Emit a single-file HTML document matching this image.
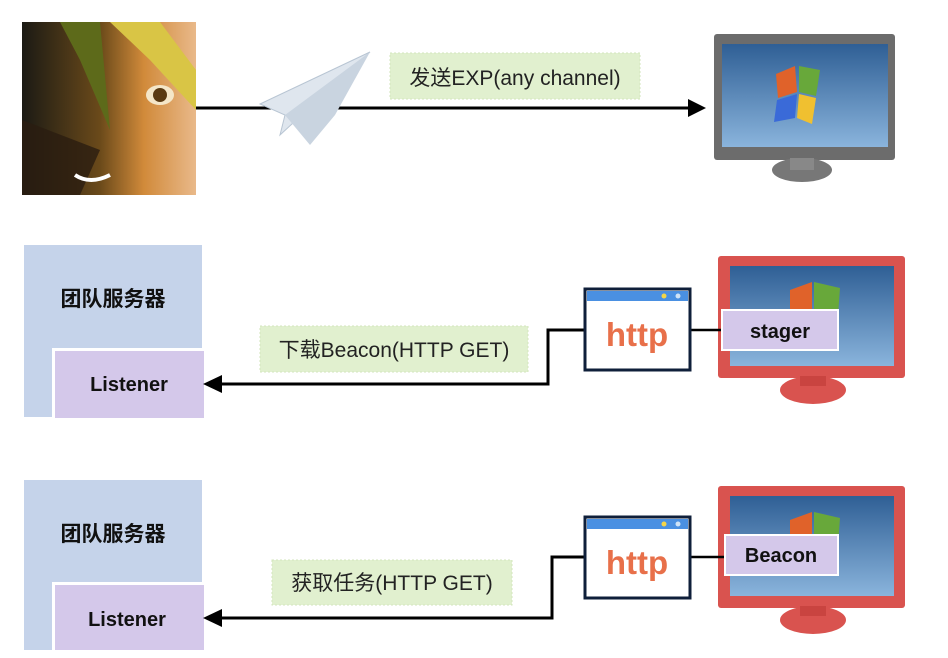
<!DOCTYPE html>
<html><head><meta charset="utf-8"><style>
html,body{margin:0;padding:0;background:#fff;}
svg{display:block;}
text{font-family:"Liberation Sans","Noto Sans CJK SC",sans-serif;}
</style></head><body>
<svg width="948" height="658" viewBox="0 0 948 658" xmlns="http://www.w3.org/2000/svg">
<defs>
<linearGradient id="scr" x1="0" y1="0" x2="0" y2="1"><stop offset="0" stop-color="#2f5f95"/><stop offset="1" stop-color="#8ab4dc"/></linearGradient>
<linearGradient id="face" x1="0" y1="0" x2="1" y2="0"><stop offset="0" stop-color="#1b1a14"/><stop offset="0.45" stop-color="#6b4a1a"/><stop offset="0.7" stop-color="#d18a3a"/><stop offset="1" stop-color="#e9b98a"/></linearGradient>
</defs>

<!-- Row 1 -->
<rect x="22" y="22" width="174" height="173" fill="url(#face)"/>
<polygon points="60,22 100,22 110,130 80,60" fill="#5d6a1a"/>
<polygon points="110,22 160,22 196,70 196,110 150,60" fill="#d9c545"/>
<polygon points="22,120 100,150 80,195 22,195" fill="#2a1d10" opacity="0.8"/>
<ellipse cx="160" cy="95" rx="14" ry="10" fill="#f4e6c8"/><circle cx="160" cy="95" r="7" fill="#5a3a12"/>
<path d="M75,175 Q90,185 110,175" stroke="#fff" stroke-width="4" fill="none"/>

<line x1="196" y1="108" x2="690" y2="108" stroke="#000" stroke-width="3"/>
<polygon points="706,108 688,99 688,117" fill="#000"/>
<polygon points="370,52 260,104 285,115 280,135" fill="#dfe6ee" stroke="#b8c5d3" stroke-width="1"/>
<polygon points="370,52 285,115 310,145 335,115" fill="#c9d4e0"/>
<rect x="390" y="53" width="250" height="46" fill="#e1f0cf" stroke="#d3e6bd" stroke-dasharray="2,2"/>
<text x="515" y="85" font-size="21" text-anchor="middle" fill="#222">发送EXP(any channel)</text>

<rect x="714" y="34" width="181" height="126" rx="3" fill="#6c6c6c"/>
<rect x="722" y="44" width="166" height="103" fill="url(#scr)"/>
<path d="M776,74 L795,66 L797,92 L778,98Z" fill="#e0622a"/>
<path d="M799,66 L820,70 L816,96 L799,92Z" fill="#68a83a"/>
<path d="M777,100 L797,94 L795,118 L774,122Z" fill="#3a6ad8"/>
<path d="M799,94 L816,98 L812,124 L797,118Z" fill="#f0c030"/>
<ellipse cx="802" cy="170" rx="30" ry="12" fill="#777"/>
<rect x="790" y="158" width="24" height="12" fill="#888"/>

<!-- Row 2 -->
<rect x="24" y="245" width="178" height="172" fill="#c5d3ea"/>
<rect x="52" y="348" width="152" height="70" fill="#fff"/>
<rect x="55" y="351" width="149" height="67" fill="#d4c8ea"/>
<text x="113" y="306" font-size="21" font-weight="bold" text-anchor="middle" fill="#111">团队服务器</text>
<text x="129" y="391" font-size="20" font-weight="bold" text-anchor="middle" fill="#111">Listener</text>
<polyline points="585,330 548,330 548,384 220,384" fill="none" stroke="#000" stroke-width="3"/>
<polygon points="203,384 222,375 222,393" fill="#000"/>
<rect x="260" y="326" width="268" height="46" fill="#e1f0cf" stroke="#d3e6bd" stroke-dasharray="2,2"/>
<text x="394" y="357" font-size="21" text-anchor="middle" fill="#222">下载Beacon(HTTP GET)</text>

<rect x="718" y="256" width="187" height="122" fill="#d9534f" rx="3"/>
<rect x="730" y="266" width="164" height="100" fill="url(#scr)"/>
<path d="M790,290 L812,282 L812,315 L790,318Z" fill="#e0622a"/>
<path d="M814,282 L840,288 L838,315 L814,315Z" fill="#68a83a"/>
<ellipse cx="813" cy="390" rx="33" ry="14" fill="#d9534f"/>
<rect x="800" y="376" width="26" height="10" fill="#c94440"/>
<line x1="690" y1="330" x2="722" y2="330" stroke="#000" stroke-width="2.5"/>
<rect x="585" y="289" width="105" height="81" fill="#fff" stroke="#0f1f3a" stroke-width="3"/>
<rect x="587" y="291" width="101" height="10" fill="#4a90e2"/>
<circle cx="664" cy="296" r="2.5" fill="#f5d547"/><circle cx="678" cy="296" r="2.5" fill="#cfe3f7"/>
<text x="637" y="346" font-size="33" font-weight="bold" text-anchor="middle" fill="#e8704a">http</text>
<rect x="722" y="310" width="116" height="40" fill="#d4c8ea" stroke="#fff" stroke-width="2"/>
<text x="780" y="338" font-size="20" font-weight="bold" text-anchor="middle" fill="#111">stager</text>

<!-- Row 3 -->
<rect x="24" y="480" width="178" height="170" fill="#c5d3ea"/>
<rect x="52" y="582" width="152" height="68" fill="#fff"/>
<rect x="55" y="585" width="149" height="65" fill="#d4c8ea"/>
<text x="113" y="541" font-size="21" font-weight="bold" text-anchor="middle" fill="#111">团队服务器</text>
<text x="127" y="626" font-size="20" font-weight="bold" text-anchor="middle" fill="#111">Listener</text>
<polyline points="585,557 552,557 552,618 220,618" fill="none" stroke="#000" stroke-width="3"/>
<polygon points="203,618 222,609 222,627" fill="#000"/>
<rect x="272" y="560" width="240" height="45" fill="#e1f0cf" stroke="#d3e6bd" stroke-dasharray="2,2"/>
<text x="392" y="590" font-size="21" text-anchor="middle" fill="#222">获取任务(HTTP GET)</text>

<rect x="718" y="486" width="187" height="122" fill="#d9534f" rx="3"/>
<rect x="730" y="496" width="164" height="100" fill="url(#scr)"/>
<path d="M790,520 L812,512 L812,545 L790,548Z" fill="#e0622a"/>
<path d="M814,512 L840,518 L838,545 L814,545Z" fill="#68a83a"/>
<ellipse cx="813" cy="620" rx="33" ry="14" fill="#d9534f"/>
<rect x="800" y="606" width="26" height="10" fill="#c94440"/>
<line x1="690" y1="557" x2="725" y2="557" stroke="#000" stroke-width="2.5"/>
<rect x="585" y="517" width="105" height="81" fill="#fff" stroke="#0f1f3a" stroke-width="3"/>
<rect x="587" y="519" width="101" height="10" fill="#4a90e2"/>
<circle cx="664" cy="524" r="2.5" fill="#f5d547"/><circle cx="678" cy="524" r="2.5" fill="#cfe3f7"/>
<text x="637" y="574" font-size="33" font-weight="bold" text-anchor="middle" fill="#e8704a">http</text>
<rect x="725" y="535" width="113" height="40" fill="#d4c8ea" stroke="#fff" stroke-width="2"/>
<text x="781" y="562" font-size="20" font-weight="bold" text-anchor="middle" fill="#111">Beacon</text>
</svg>
</body></html>
